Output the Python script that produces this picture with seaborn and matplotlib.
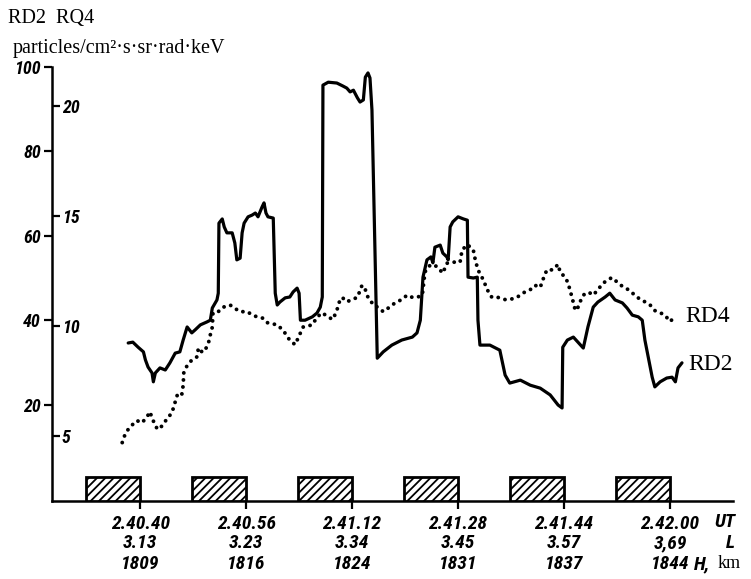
import matplotlib
matplotlib.use("Agg")
import matplotlib.pyplot as plt
from matplotlib import font_manager, transforms
import pandas as pd
import seaborn as sns

# Time axis: seconds after 2.40.00 UT
tick_t = [40, 56, 72, 88, 104, 120]
ut_labels = ["2.40.40", "2.40.56", "2.41.12", "2.41.28", "2.41.44", "2.42.00"]
l_labels = ["3.13", "3.23", "3.34", "3.45", "3.57", "3,69"]
h_labels = ["1809", "1816", "1824", "1831", "1837", "1844"]

# Outer scale (RD2) and inner scale (RQ4) tick values
outer_ticks = [20, 40, 60, 80, 100]
inner_ticks = [5, 10, 15, 20]

# RD2 flux, particles/cm2.s.sr.rad.keV
rd2_t = [38.2, 38.9, 39.7, 40.5, 40.8, 41.2, 41.8, 42.0, 42.3, 43.0,
         43.8, 44.5, 45.3, 46.0, 46.5, 47.1, 47.8, 48.3, 49.1, 50.1,
         50.6, 50.9, 51.6, 51.8, 51.9, 52.4, 52.7, 53.1, 53.9, 54.3,
         54.6, 55.1, 55.4, 55.7, 56.3, 56.9, 57.4, 57.8, 58.4, 58.7,
         59.0, 59.3, 60.1, 60.4, 60.7, 61.1, 61.9, 62.6, 63.1, 63.7,
         64.0, 64.2, 64.9, 66.0, 66.7, 67.2, 67.5, 67.6, 68.4, 69.7,
         70.6, 71.2, 71.7, 72.2, 72.8, 73.2, 73.7, 74.0, 74.4, 74.7,
         75.0, 75.8, 76.7, 78.0, 79.5, 81.1, 81.8, 82.3, 82.7, 83.3,
         83.9, 84.2, 84.5, 85.3, 85.7, 86.3, 86.5, 86.8, 87.2, 88.0,
         88.8, 89.4, 89.5, 90.3, 90.9, 91.0, 91.3, 92.8, 94.3, 95.1,
         95.8, 97.4, 98.9, 100.4, 101.9, 103.1, 103.7, 103.8, 104.5, 105.4,
         106.1, 106.9, 107.6, 108.4, 109.1, 110.2, 110.9, 111.7, 112.8, 113.5,
         114.3, 115.2, 115.8, 116.2, 116.7, 117.3, 117.7, 118.5, 119.5, 120.3,
         120.8, 121.2, 121.8]
rd2_v = [34.6, 34.8, 33.6, 32.5, 30.6, 28.9, 27.5, 25.4, 27.5, 28.7,
         28.2, 29.9, 32.2, 32.5, 35.3, 38.4, 37.0, 37.7, 38.9, 39.6,
         40.0, 42.9, 44.8, 46.4, 63.0, 64.0, 62.1, 60.7, 60.7, 58.3,
         54.3, 54.7, 60.7, 63.0, 64.5, 64.9, 65.4, 64.5, 66.8, 67.8,
         65.4, 64.5, 64.2, 46.4, 43.6, 44.3, 45.3, 45.5, 46.7, 47.6,
         46.4, 40.0, 40.0, 40.8, 41.7, 43.1, 45.5, 95.7, 96.4, 96.2,
         95.5, 95.0, 94.1, 94.5, 92.7, 91.7, 92.2, 97.6, 98.6, 97.4,
         89.8, 31.0, 32.5, 34.1, 35.3, 36.0, 37.0, 40.0, 50.2, 54.3,
         55.0, 53.6, 57.3, 57.8, 55.9, 55.0, 54.3, 62.1, 63.3, 64.5,
         64.0, 63.7, 50.2, 50.0, 50.2, 40.0, 34.1, 34.1, 32.9, 27.0,
         25.1, 25.8, 24.6, 23.9, 22.3, 19.9, 19.2, 33.6, 35.3, 36.0,
         34.8, 33.4, 38.4, 43.1, 44.3, 45.5, 46.4, 44.8, 44.1, 42.9,
         41.2, 40.8, 40.0, 35.3, 31.3, 26.5, 24.2, 25.4, 26.3, 26.5,
         25.4, 28.7, 29.9]

# RD4 flux on the inner scale
rd4_t = [37.3, 37.7, 38.2, 38.8, 39.5, 40.3, 41.1, 41.5, 41.8, 42.3,
         42.6, 43.3, 44.1, 44.8, 45.3, 45.7, 46.3, 46.5, 46.6, 47.1,
         47.8, 48.6, 48.8, 49.4, 49.8, 50.3, 50.6, 50.9, 51.0, 51.8,
         52.5, 53.6, 54.3, 55.1, 56.2, 56.9, 57.8, 58.6, 59.2, 60.7,
         61.6, 62.6, 63.4, 64.6, 66.0, 66.7, 67.5, 68.4, 69.1, 69.7,
         70.0, 70.5, 71.2, 72.0, 72.8, 73.5, 74.0, 74.4, 74.9, 75.2,
         75.9, 76.7, 77.4, 78.0, 78.8, 79.5, 80.3, 81.1, 81.8, 82.6,
         83.0, 83.5, 84.1, 84.8, 85.7, 86.3, 87.2, 88.3, 88.6, 89.4,
         90.3, 90.6, 91.0, 91.8, 92.4, 93.1, 94.0, 95.1, 95.8, 96.9,
         97.8, 98.9, 99.6, 100.4, 100.8, 101.4, 102.3, 103.1, 103.4, 104.2,
         104.6, 105.2, 105.7, 106.1, 106.7, 107.2, 107.9, 108.4, 109.1, 109.9,
         111.2, 112.0, 112.8, 113.7, 114.7, 115.5, 116.2, 117.0, 117.7, 118.5,
         119.2, 120.0, 120.5, 120.8]
rd4_u = [4.7, 5.05, 5.3, 5.5, 5.7, 5.6, 5.9, 6.1, 5.8, 5.5,
         5.3, 5.45, 5.8, 6.05, 6.55, 6.95, 6.9, 7.3, 7.9, 8.2,
         8.45, 8.6, 9.0, 8.8, 8.9, 9.2, 9.6, 9.95, 10.6, 10.65,
         10.85, 10.95, 10.8, 10.65, 10.65, 10.5, 10.4, 10.35, 10.15, 10.05,
         9.8, 9.35, 9.15, 9.95, 10.05, 10.4, 10.6, 10.4, 10.3, 10.7,
         11.05, 11.3, 11.1, 11.2, 11.3, 11.85, 11.65, 11.3, 11.1, 10.95,
         10.85, 10.65, 10.8, 10.95, 11.1, 11.2, 11.4, 11.3, 11.3, 11.4,
         12.45, 12.7, 12.8, 12.7, 12.4, 12.85, 12.9, 12.9, 13.45, 13.7,
         13.45, 13.0, 12.55, 12.1, 11.65, 11.3, 11.3, 11.2, 11.2, 11.3,
         11.5, 11.65, 11.85, 11.75, 12.1, 12.55, 12.55, 12.8, 12.45, 12.2,
         11.95, 11.3, 10.7, 10.85, 11.3, 11.5, 11.5, 11.4, 11.65, 11.95,
         12.2, 12.0, 11.8, 11.65, 11.4, 11.2, 11.1, 10.95, 10.7, 10.6,
         10.5, 10.2, 10.35, 10.3]

# Sampling windows ending at each labelled time
window_len = 8.2

sns.set_theme(style="white")
installed = {f.name for f in font_manager.fontManager.ttflist}
narrow = next((n for n in ["Liberation Sans Narrow", "Roboto Condensed", "DejaVu Sans"]
               if n in installed), "DejaVu Sans")
SERIF = "Liberation Serif"
plt.rcParams.update({
    "font.family": [narrow, "DejaVu Sans"],
    "font.style": "italic",
    "font.weight": "bold",
    "hatch.linewidth": 1.3,
    "hatch.color": "black",
    "text.color": "black",
    "xtick.color": "black",
    "ytick.color": "black",
    "axes.edgecolor": "black",
})

fig = plt.figure(figsize=(7.51, 5.79), dpi=100)
ax = fig.add_axes([52 / 751, 78 / 579, 681 / 751, 434 / 579])
y_lo, y_hi = -2.84, 100.0

df2 = pd.DataFrame({"t": rd2_t, "v": rd2_v})
df4 = pd.DataFrame({"t": rd4_t, "u": rd4_u})

# hatched sampling windows sitting on the time axis
ax.bar(tick_t, 2 * abs(y_lo), width=-window_len, bottom=y_lo, align="edge",
       facecolor="white", edgecolor="black", linewidth=2.0, hatch="////", zorder=3)

sns.lineplot(data=df2, x="t", y="v", ax=ax, color="black", linewidth=2.3,
             estimator=None, sort=False, clip_on=False)
ax.set_xlim(26.7, 129.5)
ax.set_ylim(y_lo, y_hi)

# inner scale on the same vertical line
ax2 = ax.twinx()
sns.lineplot(data=df4, x="t", y="u", ax=ax2, color="black", linewidth=2.8,
             estimator=None, sort=False)
ln = ax2.lines[-1]
ln.set_linestyle((0, (0.01, 1.8)))
ln.set_dash_capstyle("round")
ax2.set_ylim(2.045, 21.77)
ax.set_xlim(26.7, 129.5)

for s in ["top", "right"]:
    ax.spines[s].set_visible(False)
for s in ["left", "bottom"]:
    ax.spines[s].set_linewidth(1.8)
for s in ax2.spines.values():
    s.set_visible(False)

ax.set_yticks(outer_ticks)
ax.set_yticklabels([str(v) for v in outer_ticks])
ax.tick_params(axis="y", direction="out", length=6, width=1.6, pad=2,
               labelsize=13, left=True)

ax.set_xticks(tick_t)
ax.set_xticklabels(ut_labels)
ax.tick_params(axis="x", direction="out", length=6, width=1.6, pad=4,
               labelsize=14, bottom=True)

ax2.set_yticks(inner_ticks)
ax2.set_yticklabels([str(v) for v in inner_ticks])
ax2.yaxis.tick_left()
ax2.tick_params(axis="y", direction="in", length=6, width=1.6, pad=-7,
                labelsize=13, left=True, right=False, labelleft=True, labelright=False)
for lbl in ax2.get_yticklabels():
    lbl.set_horizontalalignment("left")

ax.set_xlabel("")
ax.set_ylabel("")
ax2.set_ylabel("")

def fx(px):
    return px / 751

def fy(py):
    return 1 - py / 579

# L-shell and altitude rows under the time labels
row_tf = transforms.blended_transform_factory(ax.transData, fig.transFigure)
for t, l_txt, h_txt in zip(tick_t, l_labels, h_labels):
    ax.text(t, fy(543), l_txt, transform=row_tf, ha="center", va="center", fontsize=14)
    ax.text(t, fy(564), h_txt, transform=row_tf, ha="center", va="center", fontsize=14)

serif_kw = dict(family=SERIF, style="normal", weight="normal")
fig.text(fx(8), fy(23), "RD2  RQ4", fontsize=14.5, va="baseline", **serif_kw)
fig.text(fx(13), fy(53), "particles/cm²·s·sr·rad·keV", fontsize=14.5, va="baseline",
         **serif_kw)
fig.text(fx(685), fy(316), "RD4", fontsize=17, va="center", **serif_kw)
fig.text(fx(688), fy(364), "RD2", fontsize=17, va="center", **serif_kw)

fig.text(fx(714), fy(522), "UT", fontsize=14, va="center")
fig.text(fx(726), fy(543), "L", fontsize=14, va="center")
fig.text(fx(694), fy(564), "H,", fontsize=14, va="center")
fig.text(fx(718), fy(564), "km", fontsize=13, va="center", **serif_kw)

fig.savefig("out.png", dpi=100)
